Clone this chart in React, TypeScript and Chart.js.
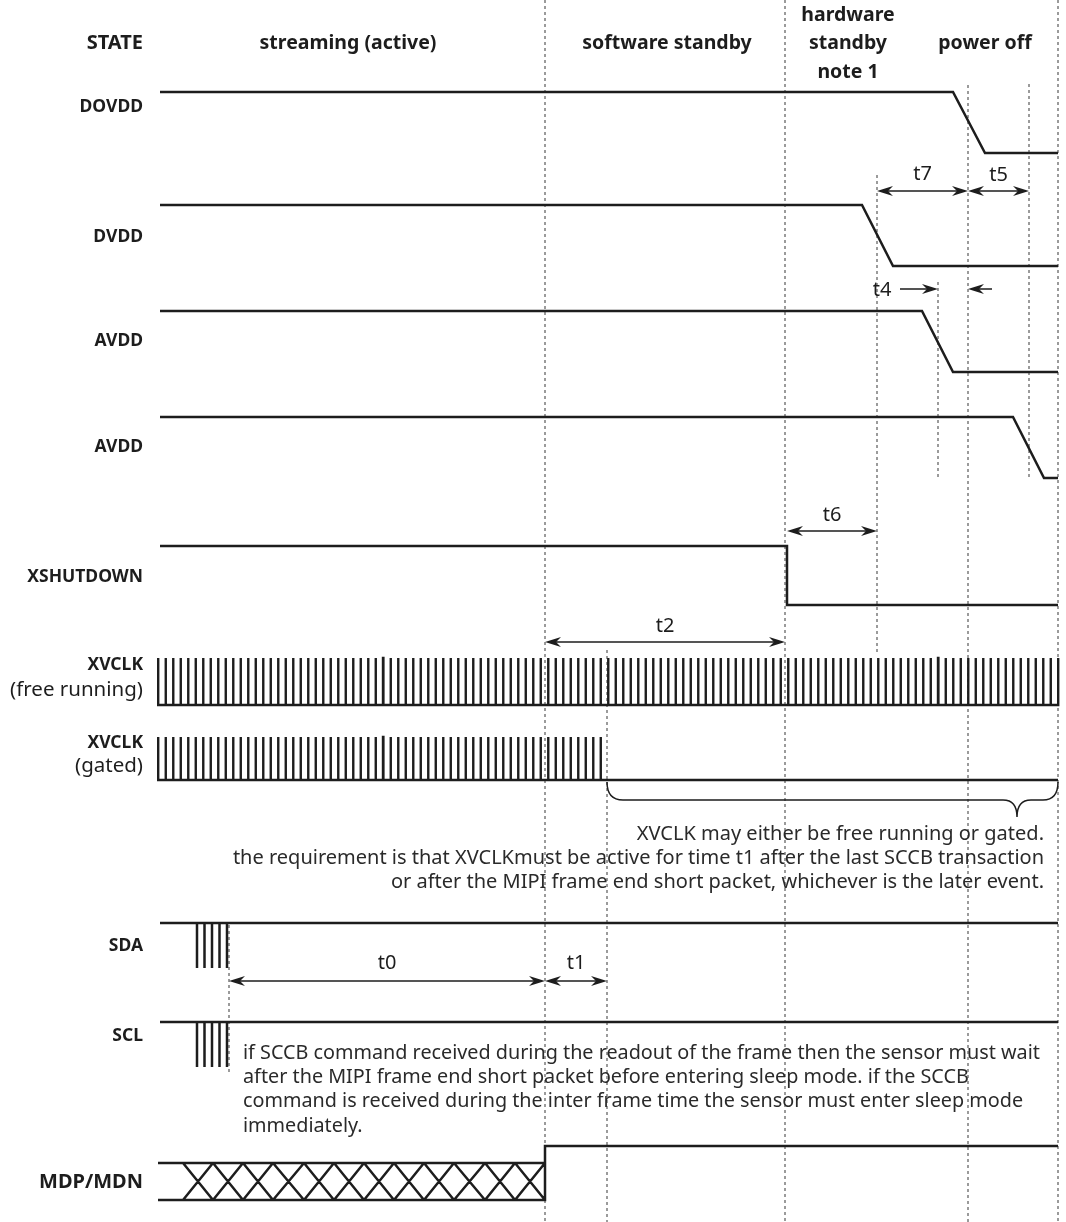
import { useEffect, useRef } from "react";
import { Chart, registerables } from "chart.js";
Chart.register(...registerables);

// ---------------- data (diagram time axis) ----------------
const stateNames = ["streaming (active)", "software standby", "hardware|standby|note 1", "power off"];
const stateCenters = [348, 667, 848, 985];

const signalNames = ["DOVDD", "DVDD", "AVDD", "AVDD", "XSHUTDOWN"];
// [start, fall begins, fall ends, end]
const dovddEdges = [160, 953, 985, 1058];
const dvddEdges = [160, 862, 893, 1058];
const avddAEdges = [160, 922, 953, 1058];
const avddBEdges = [160, 1013, 1044, 1058];
const xshutdownEdges = [160, 787, 787, 1058];

const clockStart = 158;
const clockPeriod = 7.5;
const freeRunningPulses = 121;
const gatedPulses = 60;
const traceEnd = 1058;

const sccbTicks = [197, 204.5, 212, 219.5, 227];
const mdpCrossings = [183, 213, 243, 273, 304, 334, 364, 394, 424, 454, 485, 515, 545];
const mdpStart = 158;
const mdpHighAt = 545;

// dashed markers: [x, from, to]
const markerX = [545, 607, 785, 877, 938, 968, 1029, 1058, 229];
const markerFrom = [0, 650, 0, 175, 282, 85, 84, 0, 925];
const markerTo = [1222, 1222, 1222, 655, 478, 1222, 478, 1222, 1072];

// timing arrows
const timingNames = ["t7", "t5", "t6", "t2", "t0", "t1"];
const timingFrom = [877, 968, 787, 545, 229, 545];
const timingTo = [968, 1029, 877, 785, 545, 607];

const braceText = [
  "XVCLK may either be free running or gated.",
  "the requirement is that XVCLKmust be active for time t1 after the last SCCB transaction",
  "or after the MIPI frame end short packet, whichever is the later event.",
];
const sccbText = [
  "if SCCB command received during the readout of the frame then the sensor must wait",
  "after the MIPI frame end short packet before entering sleep mode. if the SCCB",
  "command is received during the inter frame time the sensor must enter sleep mode",
  "immediately.",
];

// ---------------- layout (pixel rows) ----------------
const W = 1066;
const H = 1222;
const rowHiLo: number[][] = [
  [92, 153],
  [205, 266],
  [311, 372],
  [417, 478],
  [546, 605],
];
const signalLabelY = [107, 237, 341, 447, 577];
const clkFree = [658, 705];
const clkGated = [737, 780];
const sdaY = [923, 968];
const sclY = [1022, 1067];
const mdpY = [1146, 1163, 1200];
const timingY = [191, 191, 531, 642, 981, 981];
const timingLabelY = [174, 175, 515, 626, 963, 963];

const INK = "#1d1d1d";
const FONT = "'Noto Sans', sans-serif";

type P = { x: number; y: number | null };

function ramp(e: number[], hl: number[]): P[] {
  return [
    { x: e[0], y: hl[0] },
    { x: e[1], y: hl[0] },
    { x: e[2], y: hl[1] },
    { x: e[3], y: hl[1] },
  ];
}

function clock(count: number, hl: number[]): P[] {
  const pts: P[] = [{ x: clockStart, y: hl[1] }];
  for (let i = 0; i < count; i++) {
    const x = clockStart + i * clockPeriod;
    pts.push({ x, y: hl[1] }, { x, y: hl[0] }, { x: x + 0.4, y: hl[0] }, { x: x + 0.4, y: hl[1] });
  }
  pts.push({ x: traceEnd, y: hl[1] });
  return pts;
}

function ticks(hl: number[]): P[] {
  const pts: P[] = [{ x: 160, y: hl[0] }, { x: traceEnd, y: hl[0] }, { x: traceEnd, y: null }];
  sccbTicks.forEach((x) => {
    pts.push({ x, y: hl[0] }, { x, y: hl[1] }, { x, y: null });
  });
  return pts;
}

function mdp(): P[] {
  const pts: P[] = [
    { x: mdpStart, y: mdpY[1] },
    { x: mdpHighAt, y: mdpY[1] },
    { x: mdpHighAt, y: null },
    { x: mdpStart, y: mdpY[2] },
    { x: mdpHighAt, y: mdpY[2] },
    { x: mdpHighAt, y: mdpY[0] },
    { x: traceEnd, y: mdpY[0] },
    { x: traceEnd, y: null },
  ];
  for (let i = 0; i < mdpCrossings.length - 1; i++) {
    const a = mdpCrossings[i];
    const b = mdpCrossings[i + 1];
    pts.push({ x: a, y: mdpY[1] }, { x: b, y: mdpY[2] }, { x: b, y: null });
    pts.push({ x: a, y: mdpY[2] }, { x: b, y: mdpY[1] }, { x: b, y: null });
  }
  return pts;
}

function head(ctx: CanvasRenderingContext2D, x: number, y: number, dir: number) {
  const L = 16;
  const Wd = 5;
  const notch = 5;
  ctx.beginPath();
  ctx.moveTo(x, y);
  ctx.lineTo(x - dir * L, y - Wd);
  ctx.lineTo(x - dir * (L - notch), y);
  ctx.lineTo(x - dir * L, y + Wd);
  ctx.closePath();
  ctx.fill();
}

const annotations = {
  id: "annotations",
  afterDatasetsDraw(chart: any) {
    const ctx: CanvasRenderingContext2D = chart.ctx;
    const px = (v: number) => chart.scales.x.getPixelForValue(v);
    const py = (v: number) => chart.scales.y.getPixelForValue(v);
    ctx.save();
    ctx.fillStyle = INK;
    ctx.strokeStyle = INK;
    ctx.textBaseline = "middle";

    // header
    ctx.font = `bold 20px ${FONT}`;
    ctx.textAlign = "right";
    ctx.fillText("STATE", px(143), py(43));
    ctx.font = `bold 19.5px ${FONT}`;
    ctx.textAlign = "center";
    stateNames.forEach((s, i) => {
      const lines = s.split("|");
      if (lines.length === 1) ctx.fillText(s, px(stateCenters[i]), py(43));
      else lines.forEach((l, j) => ctx.fillText(l, px(stateCenters[i]), py(15 + j * 28.5)));
    });

    // row labels
    ctx.font = `bold 17.5px ${FONT}`;
    ctx.textAlign = "right";
    signalNames.forEach((s, i) => ctx.fillText(s, px(143), py(signalLabelY[i])));
    ctx.fillText("XVCLK", px(143), py(665));
    ctx.fillText("XVCLK", px(143), py(743));
    ctx.fillText("SDA", px(143), py(946));
    ctx.fillText("SCL", px(143), py(1036));
    ctx.font = `bold 20px ${FONT}`;
    ctx.fillText("MDP/MDN", px(143), py(1182));
    ctx.font = `20.5px ${FONT}`;
    ctx.fillText("(free running)", px(143), py(690));
    ctx.fillText("(gated)", px(143), py(766));

    // timing arrows
    ctx.lineWidth = 1.5;
    ctx.font = `20px ${FONT}`;
    ctx.textAlign = "center";
    timingNames.forEach((n, i) => {
      const a = px(timingFrom[i]);
      const b = px(timingTo[i]);
      const y = py(timingY[i]);
      ctx.beginPath();
      ctx.moveTo(a + 4, y);
      ctx.lineTo(b - 4, y);
      ctx.stroke();
      head(ctx, a, y, -1);
      head(ctx, b, y, 1);
      ctx.fillText(n, (a + b) / 2, py(timingLabelY[i]));
    });
    // t4 (arrows pointing inwards)
    {
      const y = py(289);
      ctx.beginPath();
      ctx.moveTo(px(900), y);
      ctx.lineTo(px(934), y);
      ctx.moveTo(px(972), y);
      ctx.lineTo(px(992), y);
      ctx.stroke();
      head(ctx, px(938), y, 1);
      head(ctx, px(968), y, -1);
      ctx.fillText("t4", px(882), py(290));
    }

    // brace
    {
      const yb = py(800);
      ctx.lineWidth = 1.5;
      ctx.beginPath();
      ctx.moveTo(px(607), py(782));
      ctx.quadraticCurveTo(px(607), yb, px(623), yb);
      ctx.lineTo(px(1003), yb);
      ctx.quadraticCurveTo(px(1017), yb, px(1017), py(817));
      ctx.quadraticCurveTo(px(1017), yb, px(1031), yb);
      ctx.lineTo(px(1043), yb);
      ctx.quadraticCurveTo(px(1058), yb, px(1058), py(782));
      ctx.stroke();
    }

    // paragraphs
    ctx.font = `20px ${FONT}`;
    ctx.fillStyle = "#2a2a2a";
    ctx.textAlign = "right";
    braceText.forEach((t, i) => ctx.fillText(t, px(1044), py(834 + i * 24)));
    ctx.textAlign = "left";
    ctx.font = `19.8px ${FONT}`;
    sccbText.forEach((t, i) => ctx.fillText(t, px(243), py(1053 + i * 24.3)));
    ctx.restore();
  },
};

export default function App() {
  const ref = useRef<HTMLCanvasElement>(null);
  useEffect(() => {
    if (!ref.current) return;
    const lineDs = (data: P[], width = 2.5) => ({
      data,
      borderColor: INK,
      borderWidth: width,
      pointRadius: 0,
      showLine: true,
      spanGaps: false,
      tension: 0,
      borderJoinStyle: "miter" as const,
      borderCapStyle: "butt" as const,
      order: 0,
    });
    const markers = markerX.map((x, i) => ({
      data: [
        { x, y: markerFrom[i] },
        { x, y: markerTo[i] },
      ],
      borderColor: "#5a5a5a",
      borderWidth: 1.2,
      borderDash: [3, 3],
      pointRadius: 0,
      showLine: true,
      order: 5,
    }));
    const datasets: any[] = [
      lineDs(ramp(dovddEdges, rowHiLo[0])),
      lineDs(ramp(dvddEdges, rowHiLo[1])),
      lineDs(ramp(avddAEdges, rowHiLo[2])),
      lineDs(ramp(avddBEdges, rowHiLo[3])),
      lineDs(ramp(xshutdownEdges, rowHiLo[4])),
      lineDs(clock(freeRunningPulses, clkFree), 2.4),
      lineDs(clock(gatedPulses, clkGated), 2.4),
      lineDs(ticks(sdaY), 2.5),
      lineDs(ticks(sclY), 2.5),
      lineDs(mdp(), 2.5),
      ...markers,
    ];
    const chart = new Chart(ref.current, {
      type: "scatter",
      data: { datasets },
      options: {
        animation: false,
        responsive: false,
        maintainAspectRatio: false,
        layout: { padding: 0 },
        plugins: { legend: { display: false }, tooltip: { enabled: false } },
        scales: {
          x: { type: "linear", min: 0, max: W, display: false },
          y: { type: "linear", min: 0, max: H, reverse: true, display: false },
        },
      },
      plugins: [annotations as any],
    });
    return () => chart.destroy();
  }, []);
  return (
    <div style={{ position: "absolute", left: 0, top: 0, width: W, height: H, background: "#fff" }}>
      <canvas ref={ref} width={W} height={H} style={{ width: W, height: H }} />
    </div>
  );
}
